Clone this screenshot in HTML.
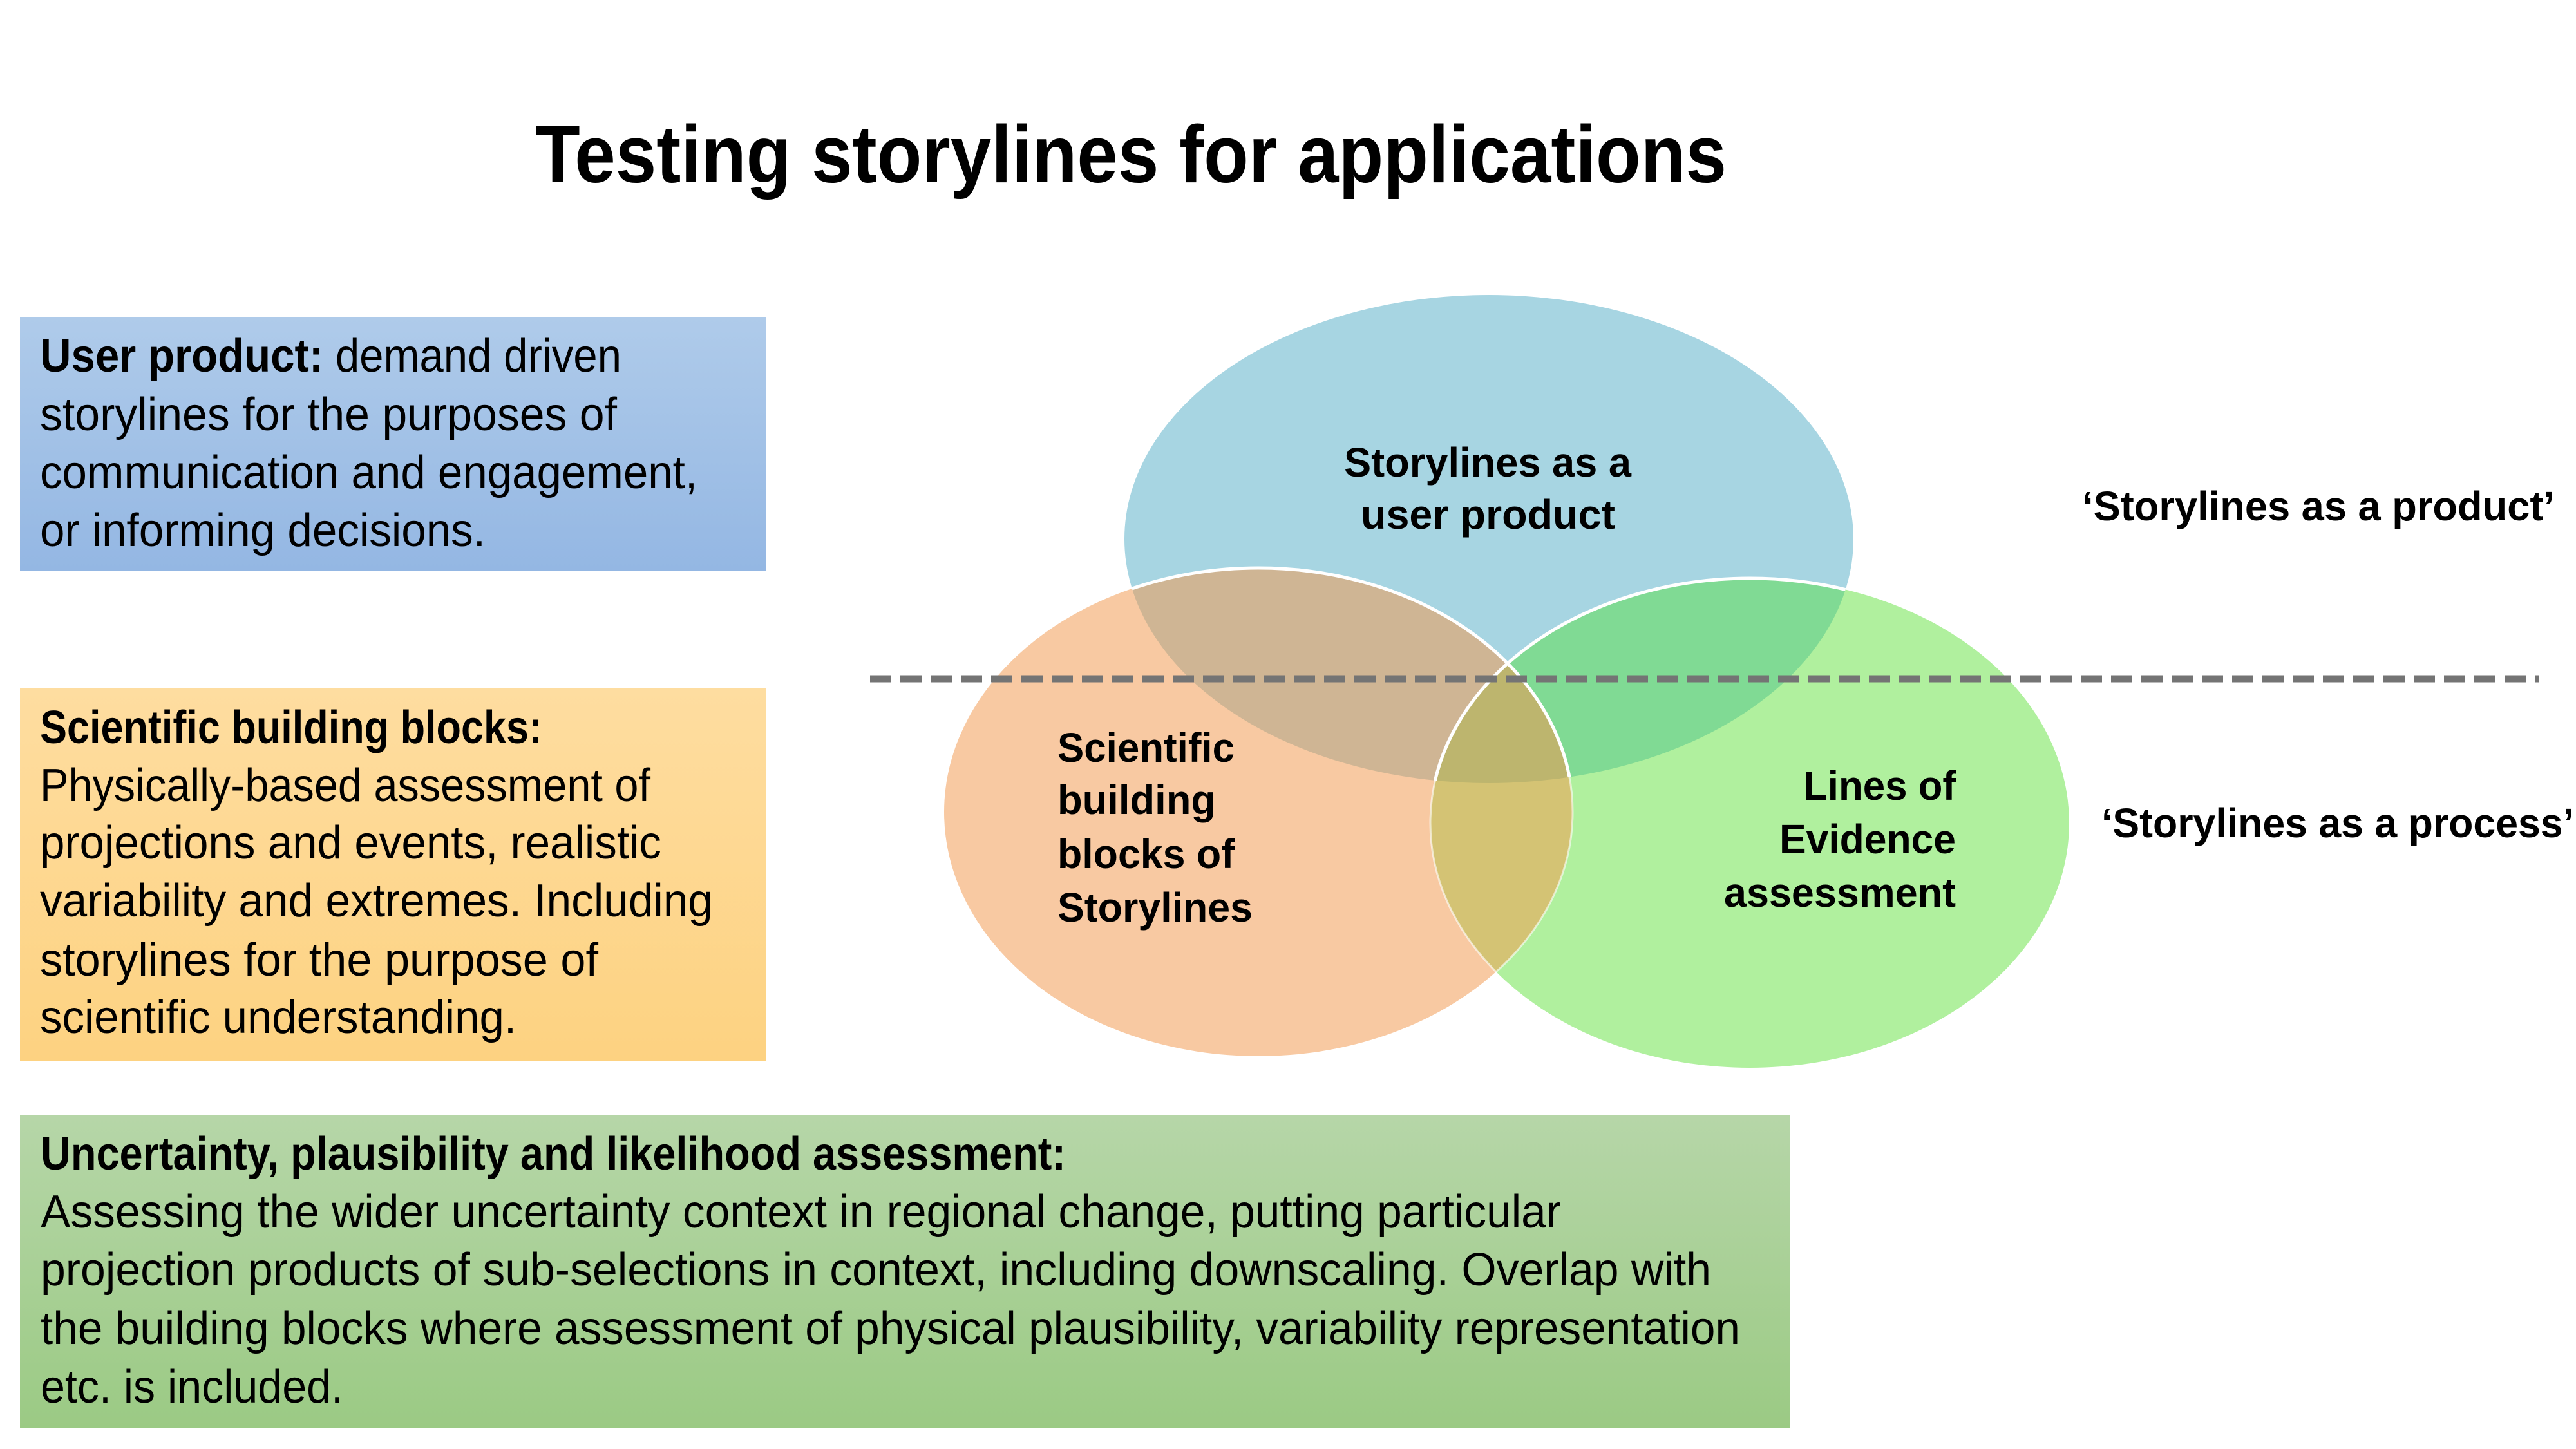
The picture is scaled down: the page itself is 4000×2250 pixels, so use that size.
<!DOCTYPE html>
<html><head><meta charset="utf-8"><style>
html,body{margin:0;padding:0;background:#fff;}
svg{display:block;}
text{font-family:"Liberation Sans",sans-serif;fill:#000;}
</style></head><body>
<svg width="4000" height="2250" viewBox="0 0 4000 2250" xmlns="http://www.w3.org/2000/svg">
<defs>
<linearGradient id="gb" x1="0" y1="0" x2="0" y2="1"><stop offset="0" stop-color="#afcbea"/><stop offset="1" stop-color="#94b7e3"/></linearGradient>
<linearGradient id="go" x1="0" y1="0" x2="0" y2="1"><stop offset="0" stop-color="#fedda0"/><stop offset="1" stop-color="#fdd281"/></linearGradient>
<linearGradient id="gg" x1="0" y1="0" x2="0" y2="1"><stop offset="0" stop-color="#b6d6a8"/><stop offset="1" stop-color="#9bca84"/></linearGradient>
<clipPath id="cB"><ellipse cx="2312" cy="837" rx="566" ry="379"/></clipPath>
<clipPath id="cO"><ellipse cx="1954" cy="1261" rx="488" ry="379"/></clipPath>
<clipPath id="cG"><ellipse cx="2717" cy="1278" rx="496" ry="380"/></clipPath>
</defs>

<text x="831" y="283" font-size="126" font-weight="bold" textLength="1850" lengthAdjust="spacingAndGlyphs">Testing storylines for applications</text>

<!-- blue box -->
<rect x="31" y="493" width="1158" height="393" fill="url(#gb)"/>
<g font-size="72">
<text x="62" y="577" textLength="903" lengthAdjust="spacingAndGlyphs"><tspan font-weight="bold">User product:</tspan> demand driven</text>
<text x="62" y="668" textLength="896" lengthAdjust="spacingAndGlyphs">storylines for the purposes of</text>
<text x="62" y="758" textLength="1021" lengthAdjust="spacingAndGlyphs">communication and engagement,</text>
<text x="62" y="848" textLength="692" lengthAdjust="spacingAndGlyphs">or informing decisions.</text>
</g>

<!-- orange box -->
<rect x="31" y="1069" width="1158" height="578" fill="url(#go)"/>
<g font-size="72">
<text x="62" y="1154" font-weight="bold" textLength="780" lengthAdjust="spacingAndGlyphs">Scientific building blocks:</text>
<text x="62" y="1244" textLength="948" lengthAdjust="spacingAndGlyphs">Physically-based assessment of</text>
<text x="62" y="1333" textLength="965" lengthAdjust="spacingAndGlyphs">projections and events, realistic</text>
<text x="62" y="1423" textLength="1045" lengthAdjust="spacingAndGlyphs">variability and extremes. Including</text>
<text x="62" y="1515" textLength="867" lengthAdjust="spacingAndGlyphs">storylines for the purpose of</text>
<text x="62" y="1604" textLength="740" lengthAdjust="spacingAndGlyphs">scientific understanding.</text>
</g>

<!-- green box -->
<rect x="31" y="1732" width="2748" height="486" fill="url(#gg)"/>
<g font-size="72">
<text x="63" y="1816" font-weight="bold" textLength="1592" lengthAdjust="spacingAndGlyphs">Uncertainty, plausibility and likelihood assessment:</text>
<text x="63" y="1906" textLength="2361" lengthAdjust="spacingAndGlyphs">Assessing the wider uncertainty context in regional change, putting particular</text>
<text x="63" y="1996" textLength="2594" lengthAdjust="spacingAndGlyphs">projection products of sub-selections in context, including downscaling. Overlap with</text>
<text x="63" y="2087" textLength="2639" lengthAdjust="spacingAndGlyphs">the building blocks where assessment of physical plausibility, variability representation</text>
<text x="63" y="2178" textLength="470" lengthAdjust="spacingAndGlyphs">etc. is included.</text>
</g>

<!-- venn -->
<ellipse cx="2312" cy="837" rx="566" ry="379" fill="#a7d5e2"/>
<ellipse cx="1954" cy="1261" rx="488" ry="379" fill="#f8c9a2"/>
<ellipse cx="2717" cy="1278" rx="496" ry="380" fill="#b0f09e"/>
<g clip-path="url(#cB)"><ellipse cx="1954" cy="1261" rx="488" ry="379" fill="#cfb594"/></g>
<g clip-path="url(#cB)"><ellipse cx="2717" cy="1278" rx="496" ry="380" fill="#80da94"/></g>
<g clip-path="url(#cO)"><ellipse cx="2717" cy="1278" rx="496" ry="380" fill="#d4c374"/></g>
<g clip-path="url(#cB)"><g clip-path="url(#cO)"><ellipse cx="2717" cy="1278" rx="496" ry="380" fill="#bdb56e"/></g></g>
<ellipse cx="1954" cy="1261" rx="488" ry="379" fill="none" stroke="#fff" stroke-width="5" clip-path="url(#cB)"/>
<ellipse cx="2717" cy="1278" rx="496" ry="380" fill="none" stroke="#fff" stroke-width="5" clip-path="url(#cB)"/>
<ellipse cx="1954" cy="1261" rx="488" ry="379" fill="none" stroke="#fff" stroke-width="3" stroke-opacity="0.6" clip-path="url(#cG)"/>
<ellipse cx="2717" cy="1278" rx="496" ry="380" fill="none" stroke="#fff" stroke-width="3" stroke-opacity="0.6" clip-path="url(#cO)"/>

<line x1="1351" y1="1054" x2="3942" y2="1054" stroke="#747474" stroke-width="11" stroke-dasharray="33 14"/>

<g font-size="64" font-weight="bold">
<text x="2087" y="740" textLength="446" lengthAdjust="spacingAndGlyphs">Storylines as a</text>
<text x="2113" y="821" textLength="395" lengthAdjust="spacingAndGlyphs">user product</text>
<text x="1642" y="1183" textLength="275" lengthAdjust="spacingAndGlyphs">Scientific</text>
<text x="1642" y="1264" textLength="246" lengthAdjust="spacingAndGlyphs">building</text>
<text x="1642" y="1348" textLength="275" lengthAdjust="spacingAndGlyphs">blocks of</text>
<text x="1642" y="1431" textLength="303" lengthAdjust="spacingAndGlyphs">Storylines</text>
<text x="2800" y="1242" textLength="237" lengthAdjust="spacingAndGlyphs">Lines of</text>
<text x="2763" y="1325" textLength="274" lengthAdjust="spacingAndGlyphs">Evidence</text>
<text x="2677" y="1408" textLength="360" lengthAdjust="spacingAndGlyphs">assessment</text>
<text x="3233" y="808" textLength="734" lengthAdjust="spacingAndGlyphs">‘Storylines as a product’</text>
<text x="3263" y="1300" textLength="734" lengthAdjust="spacingAndGlyphs">‘Storylines as a process’</text>
</g>
</svg>
</body></html>
